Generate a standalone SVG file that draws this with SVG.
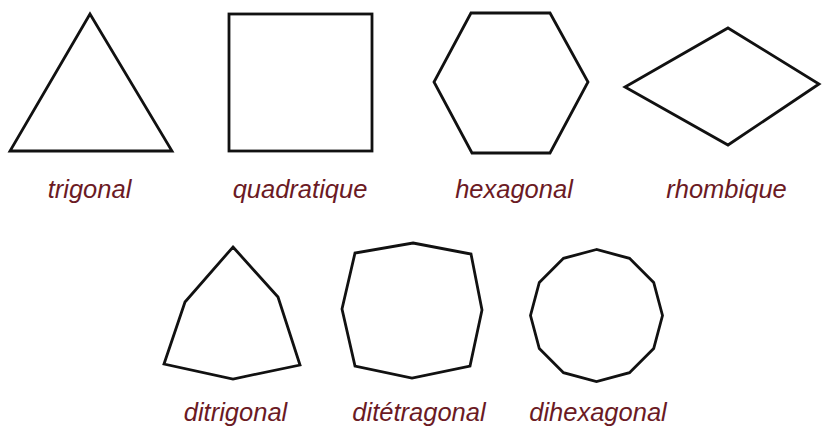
<svg xmlns="http://www.w3.org/2000/svg" width="822" height="431" viewBox="0 0 822 431">
<style>
.s{fill:none;stroke:#111;stroke-width:2.8;stroke-linejoin:miter}
.t{font-family:"Liberation Sans",Arial,sans-serif;font-style:italic;font-size:25.5px;fill:#6b1a24;text-anchor:middle}
</style>
<rect width="822" height="431" fill="#fff"/>
<g id="trigonal">
<polygon class="s" points="90,14 10,151 172,151"/>
<text class="t" x="89.5" y="198">trigonal</text>
</g>
<g id="quadratique">
<rect class="s" x="229" y="14" width="143" height="137"/>
<text class="t" x="300" y="198">quadratique</text>
</g>
<g id="hexagonal">
<polygon class="s" points="471,13 550,13 588,82 550,153 472,153 434,82"/>
<text class="t" x="514" y="198">hexagonal</text>
</g>
<g id="rhombique">
<polygon class="s" points="728,28 819,84 728,145 625,87"/>
<text class="t" x="726.5" y="198">rhombique</text>
</g>
<g id="ditrigonal">
<polygon class="s" points="233,247 278,297 300,365 233,379 164,364 185,302"/>
<text class="t" x="235.5" y="421">ditrigonal</text>
</g>
<g id="ditetragonal">
<polygon class="s" points="413,243 471,254 482,310 470,366 412,378 355,366 342,309 355,253"/>
<text class="t" x="419" y="421">ditétragonal</text>
</g>
<g id="dihexagonal">
<polygon class="s" points="596.5,249.5 563.5,258.3 539.3,282.5 530.5,315.5 539.3,348.5 563.5,372.7 596.5,381.5 629.5,372.7 653.7,348.5 662.5,315.5 653.7,282.5 629.5,258.3"/>
<text class="t" x="598" y="421">dihexagonal</text>
</g>
<g id="connectors"/>
</svg>
